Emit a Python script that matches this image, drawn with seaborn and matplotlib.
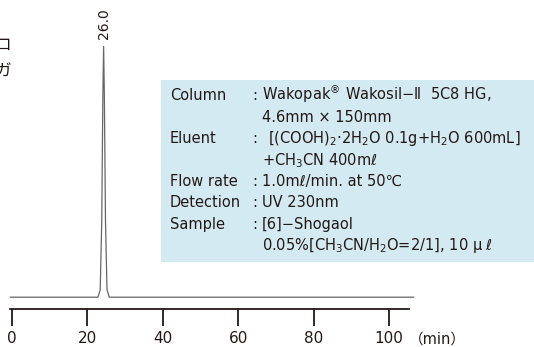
import pandas as pd
import seaborn as sns
import matplotlib.pyplot as plt
from matplotlib.patches import Rectangle

# chromatogram trace
time_min = [-0.5, 22.8, 23.4, 23.8, 24.1, 24.3, 24.5, 24.8, 25.2, 25.8, 106.6]
signal = [0, 0, 3, 30, 80, 100, 80, 30, 3, 0, 0]
peak_time = 24.3
peak_label = "26.0"
x_ticks = [0, 20, 40, 60, 80, 100]

cond_labels = ["Column", "", "Eluent", "", "Flow rate", "Detection", "Sample", ""]
cond_values = [
    "Wakopak$^{®}$ Wakosil−Ⅱ  5C8 HG,",
    "4.6mm × 150mm",
    "[(COOH)$_2$·2H$_2$O 0.1g+H$_2$O 600mL]",
    "+CH$_3$CN 400mℓ",
    "1.0mℓ/min. at 50℃",
    "UV 230nm",
    "[6]−Shogaol",
    "0.05%[CH$_3$CN/H$_2$O=2/1], 10 μ ℓ",
]

df = pd.DataFrame({"time": time_min, "signal": signal})

sns.set_style("white")
plt.rcParams["font.family"] = ["DejaVu Sans", "Noto Sans CJK JP"]
plt.rcParams["mathtext.fontset"] = "dejavusans"
plt.rcParams["text.color"] = "#231815"

W, H = 534, 347
fig = plt.figure(figsize=(W / 100, H / 100), dpi=100)

# axes placed so that 0 min sits at x=12px and 100 min at x=389px
px_per_min = (389 - 12) / 100
xlo, xhi = -3, 110
left_px = 12 + xlo * px_per_min
ax = fig.add_axes([left_px / W, 38 / H, (xhi - xlo) * px_per_min / W, 263 / H])

# light blue conditions box (drawn behind the trace)
fig.patches.append(Rectangle((161 / W, (H - 262) / H), (W - 161) / W, 182 / H,
                             transform=fig.transFigure, facecolor="#d4eaf2",
                             edgecolor="none", zorder=0))
ax.set_facecolor("none")

sns.lineplot(data=df, x="time", y="signal", ax=ax, color="#666666",
             linewidth=0.9, estimator=None, sort=False)

ax.set_xlim(xlo, xhi)
ax.set_ylim(-4.7, 100)
ax.set_xticks(x_ticks)
ax.set_xticklabels([str(t) for t in x_ticks], fontsize=11)
ax.set_yticks([])
ax.set_xlabel("")
ax.set_ylabel("")
for s in ["top", "right", "left"]:
    ax.spines[s].set_visible(False)
ax.spines["bottom"].set_linewidth(1.3)
ax.spines["bottom"].set_color("#231815")
ax.spines["bottom"].set_bounds(-0.5, 105.3)
ax.tick_params(axis="x", direction="out", length=12, width=1.3, pad=4,
               bottom=True, colors="#231815")

ax.annotate(peak_label, (peak_time, 100), xytext=(0, 5), textcoords="offset points",
            rotation=90, ha="center", va="bottom", fontsize=10, annotation_clip=False)

fig.text(409 / W, (H - 339) / H, "（min）", fontsize=10.5, ha="left", va="center")

# heading cut off at the left edge, as in the reference
fig.text(11 / W, (H - 45) / H, "ロ", fontsize=12, ha="right", va="center")
fig.text(11 / W, (H - 72) / H, "ガ", fontsize=12, ha="right", va="center")

baselines = [100, 122, 143, 165, 186, 207, 229, 250]
for lab, val, yb in zip(cond_labels, cond_values, baselines):
    y = (H - yb) / H
    if lab:
        fig.text(170 / W, y, lab, fontsize=10.5, ha="left", va="baseline")
        fig.text(252 / W, y, ":", fontsize=10.5, ha="left", va="baseline")
    vx = 268 if lab == "Eluent" else 262
    fig.text(vx / W, y, val, fontsize=10.5, ha="left", va="baseline")

plt.savefig("out.png", dpi=100)
